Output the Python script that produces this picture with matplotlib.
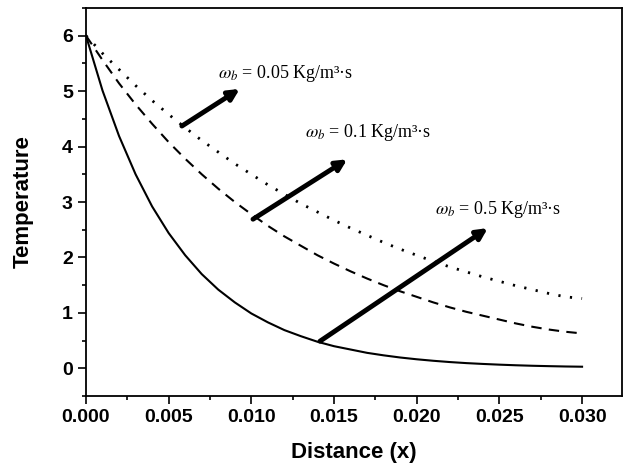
import numpy as np
import matplotlib
matplotlib.use("Agg")
import matplotlib.pyplot as plt
from matplotlib.ticker import MultipleLocator

plt.rcParams['font.family'] = ['Liberation Sans', 'DejaVu Sans']
plt.rcParams['mathtext.fontset'] = 'stix'

# Distance (x), sampled every 0.001
distance = [i * 0.001 for i in range(31)]

# Temperature for each blood perfusion rate
temp_005 = [6.00, 5.68, 5.39, 5.10, 4.83, 4.58, 4.34, 4.11, 3.90, 3.69,
            3.50, 3.31, 3.14, 2.97, 2.82, 2.67, 2.53, 2.40, 2.27, 2.15,
            2.04, 1.93, 1.83, 1.74, 1.65, 1.57, 1.49, 1.42, 1.35, 1.29, 1.26]
temp_01 = [6.00, 5.56, 5.14, 4.76, 4.41, 4.08, 3.78, 3.50, 3.24, 3.00,
           2.78, 2.57, 2.38, 2.21, 2.04, 1.89, 1.75, 1.62, 1.50, 1.39,
           1.29, 1.19, 1.10, 1.02, 0.95, 0.88, 0.81, 0.75, 0.70, 0.66, 0.63]
temp_05 = [6.00, 5.01, 4.19, 3.50, 2.92, 2.44, 2.04, 1.70, 1.42, 1.19,
           0.99, 0.83, 0.69, 0.58, 0.48, 0.40, 0.34, 0.28, 0.235, 0.196,
           0.164, 0.137, 0.114, 0.095, 0.080, 0.067, 0.056, 0.047, 0.040, 0.034, 0.030]

labels = [r'$\omega_b$' + ' = 0.05 Kg/m³·s',
          r'$\omega_b$' + ' = 0.1 Kg/m³·s',
          r'$\omega_b$' + ' = 0.5 Kg/m³·s']

# arrows: (tail x, tail y, head x, head y) and label anchors
arrows = [(0.0058, 4.37, 0.0093, 5.04),
          (0.0101, 2.69, 0.0158, 3.77),
          (0.01415, 0.49, 0.0243, 2.53)]
label_pos = [(0.0080, 5.31), (0.01324, 4.26), (0.0211, 2.87)]

fig = plt.figure(figsize=(6.23, 4.66), dpi=100)
ax = fig.add_axes([0.138, 0.150, 0.860, 0.833])

ax.plot(distance, temp_005, color='black', lw=2.0, linestyle=(0, (0.8, 3.4)))
ax.plot(distance, temp_01, color='black', lw=1.5, linestyle=(0, (5, 3.5)))
ax.plot(distance, temp_05, color='black', lw=1.5, linestyle='-')

for (x0, y0, x1, y1) in arrows:
    ax.annotate('', xy=(x1, y1), xytext=(x0, y0),
                arrowprops=dict(arrowstyle='-|>', lw=3.5, color='black',
                                mutation_scale=16, shrinkA=0, shrinkB=0))

for (tx, ty), txt in zip(label_pos, labels):
    ax.text(tx, ty, txt, fontsize=13, family=['Liberation Serif', 'DejaVu Serif'],
            va='center', ha='left')

ax.set_xlim(0, 0.0324)
ax.set_ylim(-0.5, 6.5)
ax.xaxis.set_major_locator(MultipleLocator(0.005))
ax.xaxis.set_minor_locator(MultipleLocator(0.0025))
ax.yaxis.set_major_locator(MultipleLocator(1))
ax.yaxis.set_minor_locator(MultipleLocator(0.5))
ax.xaxis.set_major_formatter(plt.FormatStrFormatter('%.3f'))

ax.tick_params(which='both', direction='out', top=False, right=False, width=1.2)
ax.tick_params(which='major', length=6, labelsize=14)
ax.tick_params(which='minor', length=3)
for lab in ax.get_xticklabels() + ax.get_yticklabels():
    lab.set_fontweight('bold')
for sp in ax.spines.values():
    sp.set_linewidth(1.3)

ax.set_xlabel('Distance (x)', fontsize=16, fontweight='bold', labelpad=11)
ax.set_ylabel('Temperature', fontsize=16, fontweight='bold', labelpad=20)

fig.savefig('out.png', dpi=100)
